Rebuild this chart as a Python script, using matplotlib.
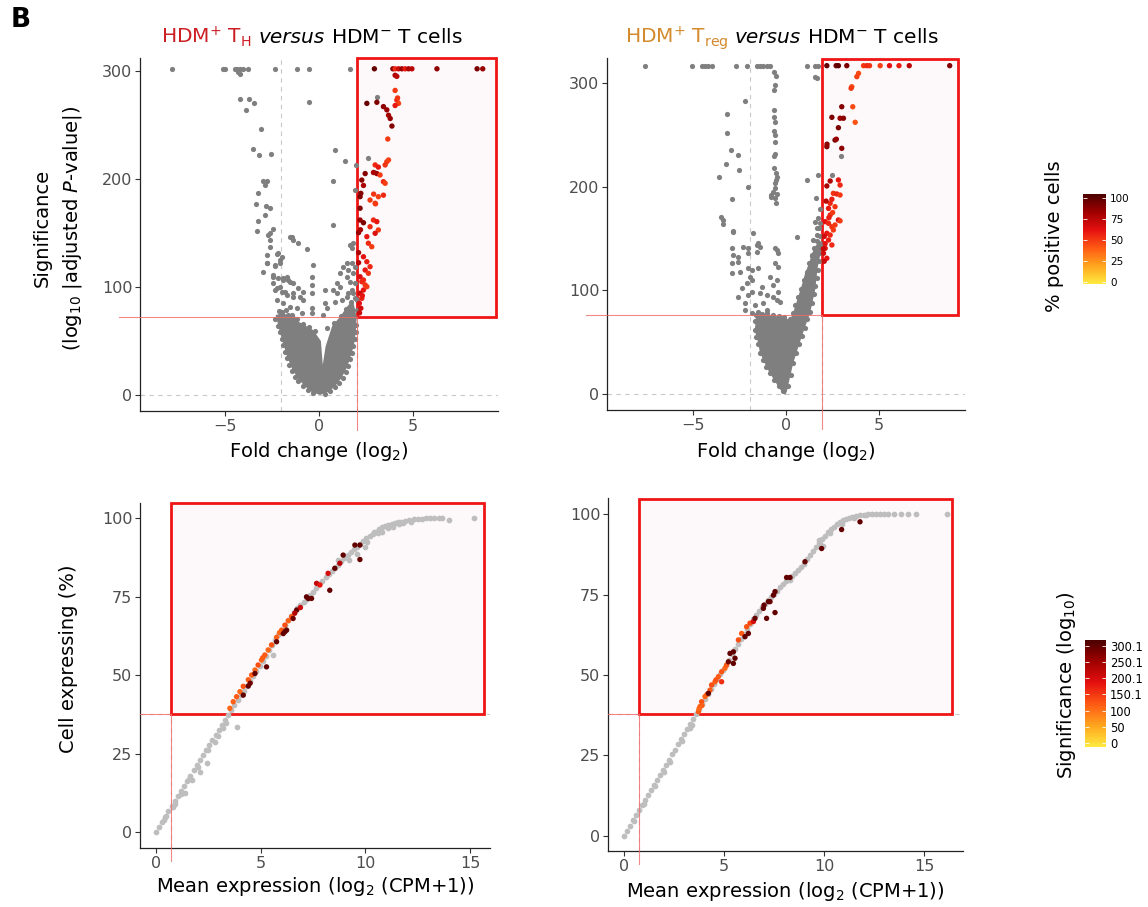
import matplotlib
matplotlib.use("Agg")
import matplotlib.pyplot as plt
from matplotlib.colors import LinearSegmentedColormap, Normalize
from matplotlib.cm import ScalarMappable
from matplotlib.patches import Rectangle

plt.rcParams["font.family"] = ["DejaVu Sans"]
plt.rcParams["mathtext.fontset"] = "dejavusans"

# ---------------- data ----------------
# volcano HDM+ TH: grey genes (fold change log2, significance)
th_grey = [(-7.8, 302), (-5.12, 302), (-5.0, 302), (-4.47, 302), (-4.34, 302), (-4.2, 302), (-4.02, 302),
           (-3.76, 302), (-2.34, 302), (-1.19, 302), (-0.53, 302), (1.65, 302),
           (-4.2, 297), (-4.3, 299), (-4.2, 274), (-3.74, 274), (-3.47, 270), (-3.9, 264), (-3.1, 246),
           (-3.49, 228), (-3.19, 222), (-2.57, 223), (0.85, 227), (1.38, 217), (1.95, 213), (-2.96, 198),
           (-2.78, 198), (-2.86, 194), (0.76, 198), (1.93, 190), (-3.26, 187), (-3.35, 176.5), (-2.82, 175),
           (-2.61, 173), (-2.87, 167), (-3.26, 161), (-2.43, 154), (-3.31, 152), (-2.61, 150), (0.76, 157),
           (3.07, 276), (2.6, 219), (2.93, 206), (-0.52, 271),
           (-2.7, 148), (-2.61, 143.5), (-2.61, 137), (-2.25, 131), (-1.98, 128), (-2.07, 125), (-2.34, 119),
           (-2.78, 122), (-1.54, 146.6), (-1.37, 143.5), (-1.1, 140.4), (-0.65, 135), (-0.3, 120.4),
           (-0.39, 109.5), (-0.39, 101.9), (-0.39, 94.2), (-0.39, 80.3), (-0.39, 75.6), (-1.45, 146.6),
           (0.32, 97.2), (0.32, 84.9), (0.23, 74.1), (0.76, 97.2), (0.94, 103.4), (1.12, 112.7), (1.29, 118.8),
           (1.47, 121.9), (1.65, 138.9), (1.74, 135.8), (1.47, 109.5), (1.65, 104.9), (1.83, 112.7),
           (1.91, 118.8), (1.91, 103.4), (1.83, 94.2), (2.0, 88), (2.0, 78.7), (1.74, 97.2), (1.56, 94.2),
           (1.56, 115.7), (1.74, 121.9), (1.83, 140.4), (1.21, 88), (1.47, 91), (0.41, 80.3), (0.85, 86.4),
           (1.12, 100.3), (0.94, 94.2),
           (-2.43, 109.5), (-2.16, 108), (-1.89, 106.5), (-1.72, 109.5), (-1.54, 104.9), (-2.07, 100.3),
           (-2.34, 97.2), (-1.81, 95.6), (-1.37, 94.2), (-1.01, 91), (-0.84, 88), (-2.25, 88), (-1.89, 84.9),
           (-1.54, 81.8), (-1.19, 80.3), (-0.92, 75.6), (-1.98, 77.1), (-1.63, 74.1), (-1.37, 71),
           (-2.78, 129.6), (-2.16, 131.2), (-2.78, 121.9), (-2.34, 120.4), (-2.07, 121.9), (-2.96, 114.2),
           (-2.43, 111.1), (-1.9, 108), (-1.63, 106.5), (-1.37, 103.4), (-1.1, 98.8), (-0.84, 95.6),
           (-2.43, 103.4), (-2.25, 98.8), (-1.98, 95.6), (-1.72, 92.6), (-1.37, 91),
           (-2.35, 70), (-2.2, 64), (-2.05, 58), (-1.98, 52), (-1.9, 46), (-1.82, 40), (-1.72, 34), (-1.6, 28),
           (-1.45, 22), (-1.3, 17), (-1.1, 13), (-0.85, 8), (-0.6, 4.5), (-0.3, 1.5), (0.3, 1.2), (0.6, 3.5),
           (0.85, 7), (1.05, 11), (1.25, 16), (1.42, 21), (1.55, 27), (1.66, 33), (1.75, 39), (1.83, 45),
           (1.9, 52), (1.95, 58), (1.98, 65),
           (-2.1, 78), (-1.75, 79), (-1.45, 74), (-1.15, 70), (-0.85, 66), (-0.55, 63), (-0.2, 59), (0.45, 62),
           (0.8, 67), (1.15, 73), (1.45, 80), (1.7, 86), (1.9, 90)]
# outline of the saturated grey cloud at the bottom of the volcano
th_core = [(-2.3, 74), (-1.9, 76), (-1.5, 72), (-1.1, 68), (-0.7, 64), (-0.3, 60), (0.1, 50), (0.2, 28),
           (0.35, 45), (0.7, 64), (1.1, 72), (1.5, 82), (1.8, 88), (2.0, 72), (1.95, 58), (1.85, 46),
           (1.72, 38), (1.5, 26), (1.2, 16), (0.85, 8), (0.5, 3), (0.05, 0), (-0.4, 3), (-0.8, 9),
           (-1.15, 16), (-1.45, 25), (-1.7, 36), (-1.9, 48), (-2.1, 60), (-2.3, 74)]
# selected genes: fold change, significance, % positive cells
th_hits = [(2.94, 302, 98), (3.92, 302, 90), (4.04, 302, 55), (4.22, 302, 70), (4.4, 302, 85), (4.57, 302, 60),
           (4.75, 302, 80), (4.93, 302, 75), (6.26, 302, 88), (8.39, 302, 92), (8.69, 302, 85),
           (4.04, 296, 80), (4.13, 295, 75), (2.54, 270, 97), (3.07, 271, 92), (3.42, 267, 88), (3.6, 264, 85),
           (3.69, 259, 82), (3.78, 256, 85), (3.87, 249, 90), (4.04, 282, 50), (4.13, 273, 55), (4.22, 270, 48),
           (4.04, 268, 60), (4.17, 275, 52), (3.65, 237, 50), (3.6, 216, 50), (3.51, 213, 52), (3.69, 217.6, 48),
           (2.98, 213, 55), (3.15, 211, 60), (3.07, 205, 85), (2.89, 206, 80), (2.45, 205, 90), (2.27, 199, 88),
           (2.36, 194, 80), (3.24, 203.7, 50), (3.42, 197.5, 55), (3.51, 196, 48), (2.18, 183.6, 92),
           (2.18, 172.9, 90), (2.18, 162, 85), (2.71, 180.5, 50), (2.98, 177.5, 52), (3.15, 183.6, 48),
           (3.42, 185, 55), (2.89, 162, 55), (3.07, 160.5, 60), (3.15, 152.8, 50), (2.98, 149.7, 65),
           (2.71, 155.8, 55), (2.54, 146.6, 60), (2.62, 140.5, 55), (2.8, 137.3, 50), (2.36, 128, 62),
           (2.54, 123.4, 58), (2.71, 118.8, 55), (2.45, 115.7, 60), (2.62, 112.7, 52), (2.18, 109.5, 65),
           (2.27, 104.9, 55), (2.45, 101.9, 52), (2.36, 97.2, 60), (2.18, 94.2, 70), (2.27, 89.5, 58),
           (2.14, 84.9, 62), (2.22, 80.3, 68), (2.36, 106.5, 55), (2.54, 100.3, 50), (2.1, 122.5, 75),
           (2.1, 131.8, 80), (2.1, 150.3, 85), (2.15, 76, 70), (2.3, 92, 60), (2.36, 159.5, 92), (2.2, 153, 80),
           (2.22, 186.7, 90), (2.9, 186, 52), (3.0, 177, 50)]

# volcano HDM+ Treg
treg_grey = [(-7.58, 316.6), (-5.04, 316.6), (-4.53, 316.6), (-4.35, 316.6), (-4.17, 316.6), (-3.99, 316.6),
             (-2.69, 316.6), (-2.11, 316.6), (-1.58, 316.6), (-1.4, 316.6), (-1.22, 316.6), (-1.04, 316.6),
             (-0.86, 316.6), (1.11, 316.6), (1.56, 316.6), (1.7, 316.6),
             (-0.62, 310.8), (-0.55, 307), (-0.6, 298), (-0.65, 292.7), (-0.66, 273.9), (-0.62, 266.8),
             (-0.58, 262), (-0.63, 253.6), (-0.6, 249.8), (-0.58, 242.7), (-0.6, 231.7), (-0.62, 229.8),
             (-0.64, 218.2), (-0.56, 212.8), (-0.5, 209.6), (-0.55, 206.4), (-0.57, 203.2), (-0.6, 198.4),
             (-0.7, 195.1), (-0.5, 192.6), (-0.6, 188.7), (-0.55, 183.9), (-0.78, 192), (-0.8, 190),
             (-2.2, 282.8), (-3.19, 269.7), (-3.16, 252), (-2.97, 235.3), (-2.56, 230.5), (-3.24, 221.8),
             (-2.53, 216), (-3.59, 209), (-2.06, 200), (-2.87, 187.8), (-3.46, 171), (-3.37, 167.8), (-3.4, 164),
             (-2.83, 157.2), (1.56, 306), (1.65, 304.4), (1.11, 206.4), (1.74, 211), (1.61, 189.3),
             (1.56, 165.6), (1.65, 160.4), (2.46, 211), (2.94, 229.8),
             (-1.76, 155), (-1.58, 143.7), (-0.59, 140.5), (-0.5, 138.9), (-0.59, 126), (-0.41, 122.8),
             (-2.83, 156.5), (-2.92, 140.5), (-2.29, 142), (-2.03, 140.5), (-1.49, 145.3), (-1.4, 142),
             (-2.83, 134), (-2.56, 132.4), (-2.03, 135.7), (-1.58, 137.2), (-0.41, 135.7), (-2.92, 126),
             (-2.56, 127.6), (-2.03, 121.2), (-1.84, 119.6), (-1.49, 121.2), (-2.92, 116.4), (-2.47, 117.9),
             (-1.94, 113.1), (-2.11, 106.7), (-1.84, 109.9), (-1.31, 103.5), (-0.86, 113.1), (-0.5, 109.9),
             (-0.68, 105.1), (-2.38, 101.9), (-1.84, 98.6), (-1.4, 97.1), (-1.04, 95.5), (-0.41, 98.6),
             (-2.03, 95.5), (-0.68, 93.8), (-0.5, 90.6), (-2.56, 93.8), (-2.2, 87.5), (-1.67, 85.8),
             (-1.22, 87.5), (-0.32, 89), (-2.2, 81), (-1.84, 77.8), (-1.49, 79.4), (-1.04, 81), (0.58, 151.7),
             (1.47, 148.5), (1.65, 153.3), (1.38, 134), (1.56, 126), (1.7, 170), (1.8, 178), (1.75, 160),
             (1.85, 165),
             (0.1, 8), (0.25, 18), (0.4, 30), (0.55, 40), (0.7, 48), (0.84, 56), (1.0, 64), (1.15, 72),
             (1.29, 79), (1.4, 88), (1.5, 96), (1.58, 104), (1.66, 112), (1.72, 120), (1.78, 128), (1.84, 136),
             (1.92, 145), (0.22, 72), (0.35, 78), (0.5, 86), (0.66, 94), (0.8, 101), (0.95, 110), (1.1, 118),
             (1.25, 126), (1.38, 133), (1.5, 141), (1.65, 148), (1.8, 152),
             (-0.15, 3), (-0.4, 8), (-0.65, 14), (-0.86, 20), (-1.05, 26), (-1.22, 33), (-1.38, 40),
             (-1.5, 48), (-1.6, 55), (-1.68, 62), (-1.65, 70), (-1.6, 76), (-1.3, 77), (-1.0, 78), (-0.7, 76),
             (-0.4, 75), (-0.1, 74)]
treg_core = [(-1.6, 76), (-1.0, 77), (-0.5, 75), (0.0, 73), (0.22, 71), (0.45, 82), (0.66, 94), (0.85, 105),
             (1.02, 116), (1.25, 127), (1.47, 139), (1.7, 146), (1.92, 148), (1.9, 140), (1.8, 131),
             (1.7, 122), (1.56, 100), (1.29, 78), (1.05, 66), (0.84, 55), (0.6, 42), (0.39, 30), (0.2, 15),
             (0.04, 2), (-0.05, -1), (-0.25, 3), (-0.41, 7), (-0.65, 14), (-0.86, 20), (-1.05, 26),
             (-1.22, 33), (-1.4, 40), (-1.49, 49), (-1.6, 56), (-1.67, 62), (-1.6, 76)]
treg_hits = [(2.19, 316.6, 98), (2.69, 316.6, 95), (2.81, 316.6, 99), (3.26, 316.6, 92), (4.16, 316.6, 50),
             (4.34, 316.6, 55), (4.48, 316.6, 52), (5.05, 316.6, 48), (5.55, 316.6, 62), (6.06, 316.6, 58),
             (6.61, 316.6, 75), (8.78, 316.6, 90),
             (3.89, 309.2, 45), (3.8, 306, 48), (3.53, 296.3, 45), (3.49, 294.8, 50), (3.58, 277, 45),
             (3.71, 262, 42), (2.46, 266.8, 92), (2.99, 277, 90), (2.9, 265.9, 85), (3.08, 265.9, 88),
             (2.81, 256.8, 92), (2.63, 244.9, 95), (2.19, 238.5, 90), (2.99, 236.9, 88), (2.19, 200.6, 80),
             (2.37, 205.4, 78), (2.81, 206.4, 60), (2.9, 201.5, 55), (2.54, 193.5, 52), (2.72, 192.9, 55),
             (2.9, 191.9, 50), (2.46, 187.8, 58), (2.37, 183.9, 55), (2.63, 180.6, 52), (2.28, 179, 60),
             (2.1, 166.2, 62), (2.28, 164.6, 55), (2.46, 161.3, 52), (2.63, 163, 50), (2.81, 167.8, 65),
             (2.9, 167, 50), (2.19, 155, 60), (2.37, 153.3, 55), (2.28, 148.5, 58), (2.46, 143.7, 55),
             (2.1, 140.5, 65), (2.01, 135.7, 68), (2.19, 130.9, 62), (2.54, 158.2, 50), (2.37, 172.6, 55),
             (2.05, 128, 70), (2.1, 145, 62), (2.05, 152, 68), (2.0, 140, 72), (2.15, 186, 75), (2.5, 175, 50),
             (2.3, 170, 58), (2.7, 245.7, 85), (2.2, 240.9, 88)]

# mean expression (log2 CPM+1) vs % cells expressing, grey genes
th_expr_grey = [(0.0, 0.0), (0.15, 1.6), (0.3, 3.3), (0.45, 4.9), (0.6, 6.6), (0.75, 8.2), (0.9, 9.9),
                (1.05, 11.5), (1.2, 13.1), (1.35, 14.7), (1.5, 16.3), (1.65, 17.9), (1.8, 19.6), (1.95, 21.2),
                (2.1, 22.8), (2.25, 24.4), (2.4, 26.0), (2.55, 27.7), (2.7, 29.3), (2.85, 30.9), (3.0, 32.5),
                (3.15, 34.1), (3.3, 35.6), (3.45, 37.2), (3.6, 38.8), (3.75, 40.3), (3.9, 41.9), (4.05, 43.5),
                (4.2, 45.0), (4.35, 46.6), (4.5, 48.1), (4.65, 49.6), (4.8, 51.2), (4.95, 52.8), (5.1, 54.5),
                (5.25, 56.2), (5.4, 57.9), (5.55, 59.5), (5.7, 61.1), (5.85, 62.7), (6.0, 64.3), (6.15, 65.9),
                (6.3, 67.4), (6.45, 68.9), (6.6, 70.1), (6.75, 71.2), (6.9, 72.2), (7.05, 73.2), (7.2, 74.3),
                (7.35, 75.4), (7.5, 76.6), (7.65, 77.8), (7.8, 78.9), (7.95, 80.0), (8.1, 81.1), (8.25, 82.1),
                (8.4, 83.1), (8.55, 84.1), (8.7, 85.2), (8.85, 86.3), (9.0, 87.4), (9.15, 88.3), (9.3, 89.2),
                (9.45, 90.1), (9.6, 90.9), (9.75, 91.8), (9.9, 92.7), (10.05, 93.5), (10.2, 94.3), (10.35, 95.0),
                (10.5, 95.7), (10.65, 96.4), (10.8, 97.0), (10.95, 97.4), (11.1, 97.8), (11.25, 98.1),
                (11.4, 98.4), (11.55, 98.7), (11.7, 98.9), (11.9, 99.2), (12.1, 99.4), (12.3, 99.6),
                (12.5, 99.7), (12.7, 99.8), (12.9, 99.9), (13.1, 99.9), (13.3, 100.0), (13.5, 100.0),
                (13.65, 100.0), (14.0, 99.4), (15.2, 99.9),
                (3.85, 33.5), (2.1, 19.2), (1.38, 12.3), (2.42, 22.0), (5.6, 56.4), (9.98, 90.7), (10.4, 95.5),
                (0.5, 5.2), (0.9, 8.8), (1.7, 16.5), (2.8, 28.6), (3.2, 33.0), (9.2, 86.5), (9.6, 88.5),
                (8.7, 86.5), (10.8, 95.6), (11.3, 97.0), (11.8, 98.3),
                (0.4, 3.8), (0.8, 8.0), (1.2, 12.2), (1.6, 16.8), (2.0, 20.8), (2.5, 26.0), (2.95, 30.6),
                (3.35, 34.6), (10.1, 92.4), (10.6, 95.2), (11.1, 96.9), (11.6, 98.2), (12.2, 98.9)]
# selected genes: mean expression, % expressing, significance
th_expr_hits = [(3.53, 39.4, 110), (3.69, 41.5, 115), (3.85, 43.1, 120), (4.01, 44.7, 110), (4.17, 46.4, 125),
                (4.41, 48.5, 115), (4.57, 50.0, 120), (4.73, 51.6, 110), (4.88, 53.2, 130), (5.04, 54.8, 115),
                (5.2, 56.4, 120), (5.36, 58.0, 110), (5.52, 59.6, 125), (5.76, 62.0, 115), (6.0, 64.3, 120),
                (6.16, 65.9, 130), (6.32, 67.3, 115), (6.48, 68.6, 120), (5.9, 63.5, 110), (5.1, 55.5, 120),
                (4.17, 43.6, 300), (4.41, 46.5, 300), (4.5, 47.4, 290), (4.73, 50.5, 300), (5.28, 52.6, 300),
                (5.76, 60.6, 300), (6.08, 63.2, 295), (6.16, 63.8, 300), (6.24, 64.3, 300), (6.55, 68.0, 290),
                (6.72, 70.7, 300), (7.19, 74.9, 300), (7.27, 74.4, 300), (7.43, 74.4, 295), (8.3, 77.0, 300),
                (8.54, 84.0, 300), (8.94, 88.2, 300), (9.5, 91.4, 300), (9.74, 91.4, 300), (9.74, 86.8, 300),
                (6.63, 69.7, 230), (7.67, 79.2, 220), (8.22, 82.4, 200), (8.78, 85.6, 230), (7.83, 78.7, 180),
                (6.9, 71.5, 210)]

treg_expr_grey = [(0.0, 0.0), (0.15, 1.6), (0.3, 3.2), (0.45, 4.8), (0.6, 6.4), (0.75, 8.0), (0.9, 9.6),
                  (1.05, 11.2), (1.2, 12.7), (1.35, 14.3), (1.5, 15.9), (1.65, 17.4), (1.8, 19.0), (1.95, 20.6),
                  (2.1, 22.1), (2.25, 23.7), (2.4, 25.3), (2.55, 26.8), (2.7, 28.4), (2.85, 30.0), (3.0, 31.6),
                  (3.15, 33.1), (3.3, 34.7), (3.45, 36.3), (3.6, 37.9), (3.75, 39.5), (3.9, 41.0), (4.05, 42.6),
                  (4.2, 44.1), (4.35, 45.6), (4.5, 47.1), (4.65, 48.7), (4.8, 50.2), (4.95, 51.7), (5.1, 53.2),
                  (5.25, 54.8), (5.4, 56.4), (5.55, 58.0), (5.7, 59.6), (5.85, 61.2), (6.0, 62.8), (6.15, 64.3),
                  (6.3, 65.8), (6.45, 67.3), (6.6, 68.6), (6.75, 69.8), (6.9, 71.0), (7.05, 72.1), (7.2, 73.2),
                  (7.35, 74.2), (7.5, 75.2), (7.65, 76.2), (7.8, 77.2), (7.95, 78.2), (8.1, 79.1), (8.25, 80.0),
                  (8.4, 80.8), (8.55, 81.7), (8.7, 82.6), (8.85, 83.6), (9.0, 84.6), (9.15, 85.9), (9.3, 87.2),
                  (9.45, 88.5), (9.6, 89.8), (9.75, 91.0), (9.9, 92.2), (10.05, 93.3), (10.2, 94.3),
                  (10.35, 95.3), (10.5, 96.1), (10.65, 96.9), (10.8, 97.6), (10.95, 98.1), (11.1, 98.6),
                  (11.25, 98.9), (11.4, 99.2), (11.6, 99.5), (11.8, 99.7), (12.0, 99.8), (12.2, 99.9),
                  (12.4, 100.0), (12.6, 100.0), (12.8, 100.0), (13.0, 100.0), (13.2, 100.0), (13.5, 100.0),
                  (13.85, 100.0), (14.2, 100.0), (14.6, 100.0), (16.13, 100.0),
                  (9.75, 91.8), (9.95, 90.0), (9.8, 90.6), (8.3, 79.5), (2.0, 19.8), (3.4, 34.5),
                  (0.5, 4.6), (1.0, 9.9), (1.55, 15.6), (2.3, 23.0), (2.9, 29.4), (3.3, 33.6),
                  (10.3, 94.0), (10.9, 97.0), (11.5, 98.7), (12.1, 99.6)]
treg_expr_hits = [(3.72, 38.6, 120), (3.8, 40.2, 115), (3.88, 41.7, 125), (4.05, 43.3, 110), (4.3, 45.3, 120),
                  (4.38, 46.9, 130), (4.55, 47.9, 115), (4.72, 49.5, 120), (4.88, 51.0, 125), (5.05, 52.1, 110),
                  (5.13, 53.1, 120), (5.72, 60.9, 130), (5.88, 62.9, 120), (6.13, 65.0, 125), (6.3, 66.1, 135),
                  (4.88, 47.9, 160), (3.75, 39.5, 110), (3.9, 40.5, 115), (4.15, 44.0, 120), (4.6, 48.5, 125),
                  (6.47, 66.6, 200), (4.22, 44.3, 300), (5.3, 56.7, 300), (5.47, 57.2, 300), (5.47, 53.6, 300),
                  (5.55, 55.2, 300), (5.22, 54.1, 290), (6.05, 61.9, 300), (6.22, 62.9, 300), (6.55, 67.6, 300),
                  (6.97, 70.7, 300), (7.0, 71.7, 300), (7.13, 67.6, 300), (7.22, 72.8, 300), (7.3, 72.8, 300),
                  (7.47, 74.8, 300), (7.55, 75.9, 300), (7.55, 69.4, 300), (8.13, 80.3, 300), (8.3, 80.3, 300),
                  (9.05, 85.2, 300), (9.88, 89.3, 300), (10.88, 95.2, 300), (11.8, 97.6, 300)]

pct_ticks = [0, 25, 50, 75, 100]
sig_ticks = [0, 50, 100, 150.1, 200.1, 250.1, 300.1]
sig_tick_labels = ["0", "50", "100", "150.1", "200.1", "250.1", "300.1"]

# ---------------- style ----------------
cmap = LinearSegmentedColormap.from_list(
    "heat", ["#FFEA40", "#FFA51E", "#FF5A14", "#E51010", "#A00000", "#4A0000"])
pct_norm = Normalize(-2.4, 104.8)
sig_norm = Normalize(-12.4, 318.6)
GREY_DARK = "#7F7F7F"
GREY_LIGHT = "#BEBEBE"
RECT_EDGE = "#F01515"
RECT_FILL = "#FDF8F9"
THR_RED = "#F06A6A"
THR_GREY = "#C8C8C8"

W, H = 1148, 907
fig = plt.figure(figsize=(W / 100, H / 100), dpi=100)


def px_axes(left, top, right, bottom):
    return fig.add_axes([left / W, 1 - bottom / H, (right - left) / W, (bottom - top) / H])


def style_axes(ax):
    for side in ["top", "right"]:
        ax.spines[side].set_visible(False)
    for side in ["left", "bottom"]:
        ax.spines[side].set_color("#222222")
        ax.spines[side].set_linewidth(0.9)
    ax.tick_params(direction="out", length=3.5, width=0.8, color="#333333",
                   labelcolor="#4D4D4D", labelsize=11.5, pad=2)


def draw_volcano(ax, grey, core, hits, thr_fc, thr_sig, rect_right, rect_top, xlim, ylim):
    ax.set_xlim(*xlim)
    ax.set_ylim(*ylim)
    dash = dict(color=THR_GREY, lw=0.8, ls=(0, (4, 4)), zorder=1)
    ax.axvline(-thr_fc, **dash)
    ax.axvline(thr_fc, **dash)
    ax.axhline(0, **dash)
    ax.add_patch(Rectangle((thr_fc, thr_sig), rect_right - thr_fc, rect_top - thr_sig,
                           fc=RECT_FILL, ec=RECT_EDGE, lw=2.0, zorder=2, clip_on=False))
    cx, cy = zip(*core)
    ax.fill(cx, cy, color=GREY_DARK, lw=0, zorder=3)
    gx, gy = zip(*grey)
    ax.scatter(gx, gy, s=14, color=GREY_DARK, linewidths=0, zorder=3)
    hx, hy, hc = zip(*hits)
    ax.scatter(hx, hy, s=15, c=hc, cmap=cmap, norm=pct_norm, linewidths=0, zorder=4)
    ax.plot([thr_fc, thr_fc], [ylim[0] - 18, thr_sig], color=THR_RED, lw=0.8, alpha=0.8,
            clip_on=False, zorder=5)
    ax.plot([xlim[0] - 1.1, thr_fc], [thr_sig, thr_sig], color=THR_RED, lw=0.8, alpha=0.8,
            clip_on=False, zorder=5)
    ax.set_xticks([-5, 0, 5])
    ax.set_xticklabels(["\u22125", "0", "5"])
    ax.set_yticks([0, 100, 200, 300])
    style_axes(ax)


def draw_expr(ax, grey, hits, thr_x, thr_y, rect_right, rect_top, xlim, ylim):
    ax.set_xlim(*xlim)
    ax.set_ylim(*ylim)
    dash = dict(color=THR_GREY, lw=0.8, ls=(0, (4, 4)), zorder=1)
    ax.axvline(thr_x, **dash)
    ax.axhline(thr_y, **dash)
    ax.add_patch(Rectangle((thr_x, thr_y), rect_right - thr_x, rect_top - thr_y,
                           fc=RECT_FILL, ec=RECT_EDGE, lw=2.0, zorder=2, clip_on=False))
    gx, gy = zip(*grey)
    ax.scatter(gx, gy, s=17, color=GREY_LIGHT, linewidths=0, zorder=3)
    hx, hy, hc = zip(*hits)
    ax.scatter(hx, hy, s=15, c=hc, cmap=cmap, norm=sig_norm, linewidths=0, zorder=4)
    ax.plot([thr_x, thr_x], [ylim[0] - 4, thr_y], color=THR_RED, lw=0.8, alpha=0.8,
            clip_on=False, zorder=5)
    ax.plot([xlim[0], thr_x], [thr_y, thr_y], color=THR_RED, lw=0.8, alpha=0.8,
            clip_on=False, zorder=5)
    ax.set_xticks([0, 5, 10, 15])
    ax.set_yticks([0, 25, 50, 75, 100])
    style_axes(ax)


ax1 = px_axes(140, 58, 498, 411)
draw_volcano(ax1, th_grey, th_core, th_hits, 2.0, 72, 9.4, 312, (-9.5, 9.5), (-14.8, 312))
ax2 = px_axes(607, 58, 965, 410)
draw_volcano(ax2, treg_grey, treg_core, treg_hits, 1.95, 76, 9.2, 323, (-9.6, 9.6), (-15.4, 324))
ax3 = px_axes(140, 503, 490, 848)
draw_expr(ax3, th_expr_grey, th_expr_hits, 0.72, 37.6, 15.65, 104.8, (-0.76, 15.95), (-5.1, 104.8))
ax4 = px_axes(608, 498, 963, 851)
draw_expr(ax4, treg_expr_grey, treg_expr_hits, 0.75, 37.9, 16.4, 104.7, (-0.8, 16.95), (-4.7, 105))

# axis labels
for ax in (ax1, ax2):
    ax.set_xlabel("Fold change (log$_2$)", fontsize=14)
for ax in (ax3, ax4):
    ax.set_xlabel("Mean expression (log$_2$ (CPM+1))", fontsize=14)
ax1.xaxis.set_label_coords(0.5, -0.083)
ax2.xaxis.set_label_coords(0.5, -0.086)
ax3.xaxis.set_label_coords(0.5, -0.079)
ax4.xaxis.set_label_coords(0.5, -0.082)

fig.text(42 / W, 1 - 228 / H, "Significance", rotation=90, fontsize=14, ha="center", va="center")
fig.text(72 / W, 1 - 228 / H, "(log$_{10}$ |adjusted $P$-value|)", rotation=90, fontsize=14,
         ha="center", va="center")
fig.text(69 / W, 1 - 659 / H, "Cell expressing (%)", rotation=90, fontsize=14, ha="center", va="center")

# colour bars
cax1 = px_axes(1083, 194, 1106, 284)
cb1 = fig.colorbar(ScalarMappable(norm=pct_norm, cmap=cmap), cax=cax1, ticks=pct_ticks)
cax2 = px_axes(1085, 640, 1106, 747)
cb2 = fig.colorbar(ScalarMappable(norm=sig_norm, cmap=cmap), cax=cax2, ticks=sig_ticks)
cb2.set_ticklabels(sig_tick_labels)
for cb, size in ((cb1, 7.5), (cb2, 8.3)):
    cb.outline.set_visible(False)
    cb.ax.yaxis.set_ticks_position("both")
    cb.ax.tick_params(direction="in", color="white", length=3, width=0.6, labelsize=size,
                      labelleft=False, labelright=True, pad=3)
fig.text(1055 / W, 1 - 236 / H, "% positive cells", rotation=90, fontsize=14, ha="center", va="center")
fig.text(1066 / W, 1 - 685 / H, "Significance (log$_{10}$)", rotation=90, fontsize=14,
         ha="center", va="center")

# panel letter
fig.text(11 / W, 1 - 7 / H, "B", fontsize=19, fontweight="bold", va="top", ha="left")


# titles with coloured parts
def title_pieces(pieces, xc, yb, size):
    texts = []
    for s, col, style in pieces:
        texts.append(fig.text(0, 1 - yb / H, s, color=col, fontstyle=style, fontsize=size,
                              va="baseline", ha="left"))
    r = fig.canvas.get_renderer()
    widths = [t.get_window_extent(r).width for t in texts]
    gap = 0.318 * size * 100 / 72
    x = xc - (sum(widths) + gap * (len(texts) - 1)) / 2
    for t, w in zip(texts, widths):
        t.set_x(x / W)
        x += w + gap


title_pieces([("HDM$^{+}$ T$_{\\mathrm{H}}$", "#CC1F24", "normal"),
              ("versus", "black", "italic"),
              ("HDM$^{-}$ T cells", "black", "normal")], 312, 43, 14.5)
title_pieces([("HDM$^{+}$ T$_{\\mathrm{reg}}$", "#D48A2E", "normal"),
              ("versus", "black", "italic"),
              ("HDM$^{-}$ T cells", "black", "normal")], 782, 43, 14.5)

fig.savefig("out.png", dpi=100, facecolor="white")
